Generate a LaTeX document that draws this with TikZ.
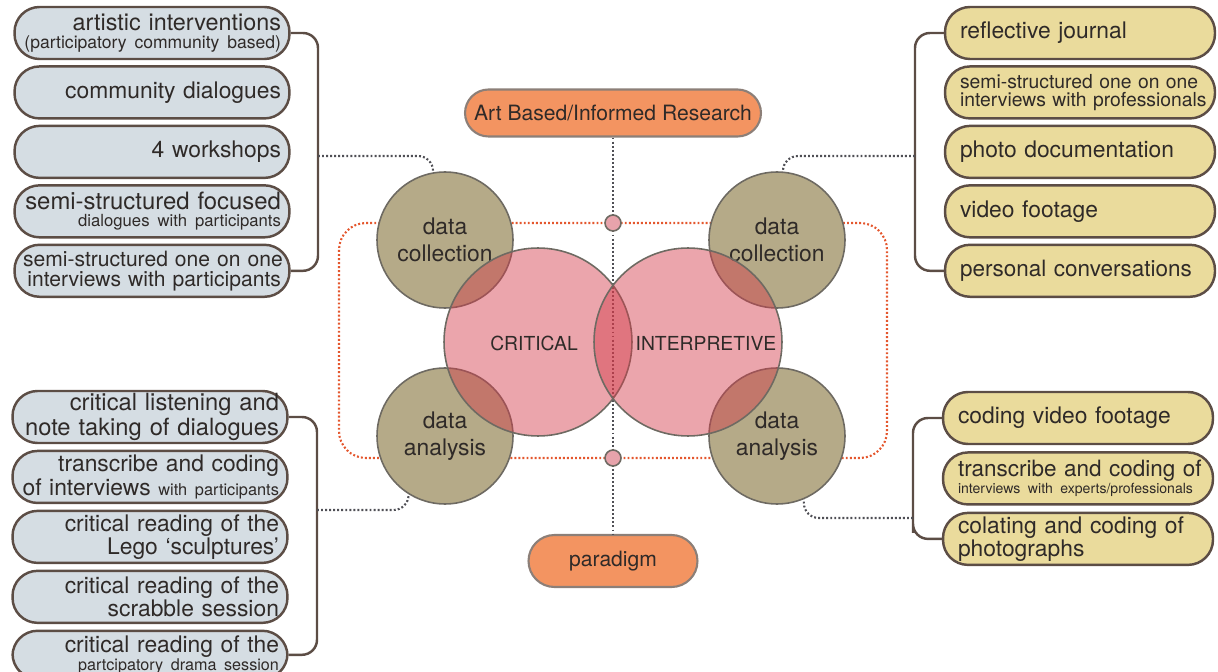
\documentclass[tikz,border=0pt]{standalone}
\usepackage{fontspec}
\setmainfont{TeX Gyre Heros}
\usepackage{tikz}
\usetikzlibrary{positioning}
\setlength{\parindent}{0pt}
\hyphenpenalty=10000
\exhyphenpenalty=10000
\definecolor{boxline}{HTML}{5C4D45}
\definecolor{greyfill}{HTML}{D5DDE3}
\definecolor{yellowfill}{HTML}{EADB9C}
\definecolor{khaki}{HTML}{B5AA88}
\definecolor{circline}{HTML}{6E6A62}
\definecolor{pinkbase}{RGB}{211,59,74}
\definecolor{jointfill}{HTML}{E7A3AB}
\definecolor{framefill}{HTML}{F39461}
\definecolor{frameline}{HTML}{8C7F78}
\definecolor{dotgrey}{HTML}{4F4F55}
\definecolor{dotorange}{HTML}{E4572E}
\definecolor{inktext}{HTML}{2F2A28}
\tikzset{
	grey box/.style={draw=boxline, fill=greyfill, line width=1.4pt, rounded corners=0.5cm, minimum width=5.5cm, minimum height=1.04cm, text width=5.16cm, inner xsep=0.1cm, inner ysep=0pt, align=right, text=inktext, font=\fontsize{13}{12}\selectfont},
	yellow box/.style={grey box, fill=yellowfill, minimum width=5.4cm, text width=4.8cm, inner xsep=0.3cm, align=left},
	data circle/.style={circle, draw=circline, fill=khaki, line width=0.9pt, minimum size=2.72cm, inner sep=0pt, align=center, text=inktext, font=\fontsize{13}{15.5}\selectfont},
	paradigm circle/.style={circle, draw=circline, line width=0.9pt, fill=pinkbase, fill opacity=0.46, draw opacity=1, minimum size=3.76cm, inner sep=0pt},
	circle label/.style={text=inktext, font=\fontsize{11}{13}\selectfont},
	frame box/.style={draw=frameline, fill=framefill, line width=1.2pt, rounded corners=0.47cm, minimum height=0.94cm, inner xsep=0.1cm, text=inktext, font=\fontsize{12}{14}\selectfont},
	joint/.style={circle, draw=circline, fill=jointfill, line width=0.9pt, minimum size=0.32cm, inner sep=0pt},
	bracket/.style={draw=boxline, line width=1.4pt, rounded corners=0.3cm},
	grey dots/.style={draw=dotgrey, line width=1.2pt, dash pattern=on 1.1pt off 1.2pt, rounded corners=0.3cm},
	orange dots/.style={draw=dotorange, line width=1.2pt, dash pattern=on 1.1pt off 1.2pt, rounded corners=0.54cm}
}
\begin{document}
\begin{tikzpicture}[x=0.02cm, y=-0.02cm]
	\useasboundingbox (0,0) rectangle (1218,672);
	\node[frame box, minimum width=5.92cm] (abr) at (613,113) {Art Based/Informed Research};
	\node[frame box, minimum width=3.38cm, minimum height=1.04cm, rounded corners=0.52cm] (par) at (613,561) {paradigm};
	\draw[grey dots] (abr.south) -- (par.north);
	\draw[orange dots] (339,223) rectangle (887,458);
	\node[joint] (jtop) at (613,223) {};
	\node[joint] (jbot) at (613,458) {};

	\node[data circle] (dc1) at (445,240) {data\\collection};
	\node[data circle] (da1) at (445,436) {data\\analysis};
	\node[data circle] (dc2) at (777,240) {data\\collection};
	\node[data circle] (da2) at (777,436) {data\\analysis};
	\node[paradigm circle] (crit) at (538,342) {};
	\node[paradigm circle] (intp) at (688,342) {};
	\node[circle label] (critlbl) at (534,343) {CRITICAL};
	\node[circle label] (intplbl) at (706,343) {INTERPRETIVE};

	\node[grey box, font=\fontsize{13.3}{10.2}\selectfont] (lt1) at (152,33) {artistic interventions\\\mbox{\fontsize{10}{10}\selectfont (participatory community based)}};
	\node[grey box, below=0.1cm of lt1] (lt2) {community dialogues};
	\node[grey box, below=0.1cm of lt2] (lt3) {4 workshops};
	\node[grey box, below=0.1cm of lt3, font=\fontsize{13.6}{9.6}\selectfont] (lt4) {\mbox{semi-structured focused}\\\mbox{\fontsize{9.5}{10}\selectfont dialogues with participants}};
	\node[grey box, below=0.1cm of lt4, font=\fontsize{12}{11.3}\selectfont] (lt5) {\mbox{semi-structured one on one}\\\mbox{interviews with participants}};

	\node[grey box, font=\fontsize{13.5}{12}\selectfont] (lb1) at (150,417) {critical listening and\\\mbox{note taking of dialogues}};
	\node[grey box, below=0.11cm of lb1] (lb2) {transcribe and coding\\\mbox{of interviews {\fontsize{9.3}{10}\selectfont with participants}}};
	\node[grey box, below=0.11cm of lb2] (lb3) {critical reading of the\\Lego ‘sculptures’};
	\node[grey box, below=0.11cm of lb3] (lb4) {critical reading of the\\scrabble session};
	\node[grey box, below=0.11cm of lb4, minimum height=0.96cm, font=\fontsize{13}{10.5}\selectfont] (lb5) {critical reading of the\\\mbox{\fontsize{9.2}{10}\selectfont partcipatory drama session}};

	\node[yellow box] (rt1) at (1080,33) {reflective journal};
	\node[yellow box, below=0.1cm of rt1, font=\fontsize{11}{10}\selectfont] (rt2) {\mbox{semi-structured one on one}\\\mbox{interviews with professionals}};
	\node[yellow box, below=0.1cm of rt2] (rt3) {photo documentation};
	\node[yellow box, below=0.1cm of rt3] (rt4) {video footage};
	\node[yellow box, below=0.1cm of rt4, font=\fontsize{12.8}{12}\selectfont] (rt5) {\mbox{personal conversations}};

	\node[yellow box] (rb1) at (1078,418) {coding video footage};
	\node[yellow box, below=0.12cm of rb1, font=\fontsize{12.8}{8}\selectfont] (rb2) {\mbox{transcribe and coding of}\\\mbox{\fontsize{8}{8}\selectfont interviews with experts/professionals}};
	\node[yellow box, below=0.12cm of rb2] (rb3) {colating and coding of\\photographs};

	\coordinate (ltb) at (318,156);
	\coordinate (lbb) at (317,510);
	\coordinate (rtb) at (915,156);
	\coordinate (rbb) at (913,518);
	\draw[bracket] (lt1.east) -| (ltb) |- (lt5.east);
	\draw[bracket] (lb1.east) -| (lbb) |- (lb5.east);
	\draw[bracket] (rt1.west) -| (rtb) |- (rt5.west);
	\draw[bracket] (rb1.west) -| (rbb) |- (rb3.west);
	\draw[grey dots] (ltb) -| (dc1.100);
	\draw[grey dots] (lbb) -| (da1.238);
	\draw[grey dots] (rtb) -| (dc2.85);
	\draw[grey dots] (rbb) -| (da2.293);
\end{tikzpicture}
\end{document}
